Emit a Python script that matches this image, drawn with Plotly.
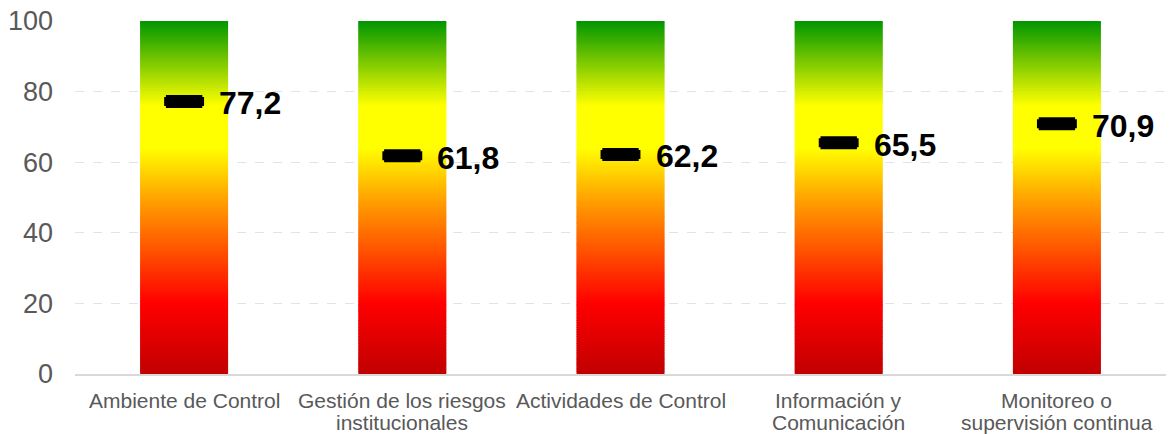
import plotly.graph_objects as go
from plotly.colors import sample_colorscale

# ---- data ----
categories = [
    "Ambiente de Control",
    "Gestión de los riesgos institucionales",
    "Actividades de Control",
    "Información y Comunicación",
    "Monitoreo o supervisión continua",
]
category_lines = [
    ["Ambiente de Control"],
    ["Gestión de los riesgos", "institucionales"],
    ["Actividades de Control"],
    ["Información y", "Comunicación"],
    ["Monitoreo o", "supervisión continua"],
]
scores = [77.2, 61.8, 62.2, 65.5, 70.9]
scale_min = 0
scale_max = 100
y_ticks = [0, 20, 40, 60, 80, 100]

# gradient of the background scale (bottom -> top)
gradient_stops = [
    [0.00, "rgb(192,0,0)"],
    [0.20, "rgb(255,0,0)"],
    [0.50, "rgb(255,165,0)"],
    [0.64, "rgb(255,255,0)"],
    [0.76, "rgb(255,255,0)"],
    [1.00, "rgb(0,150,0)"],
]

N_SEG = 200
step = (scale_max - scale_min) / N_SEG
levels = [scale_min + i * step for i in range(N_SEG)]
seg_colors = sample_colorscale(gradient_stops, [(l + step / 2 - scale_min) / (scale_max - scale_min) for l in levels])

bx, bbase, by, bcol = [], [], [], []
for c in categories:
    for l, col in zip(levels, seg_colors):
        bx.append(c)
        bbase.append(l)
        by.append(min(step * 1.6, scale_max - l))
        bcol.append(col)

fig = go.Figure()
fig.add_trace(go.Bar(
    x=bx, y=by, base=bbase, width=0.403,
    marker=dict(color=bcol, line=dict(width=0)),
    hoverinfo="skip", showlegend=False,
))
fig.add_trace(go.Scatter(
    x=categories, y=scores, mode="markers",
    marker=dict(symbol="line-ew", size=26, color="black",
                line=dict(width=13, color="black")),
    hoverinfo="skip", showlegend=False,
))
# rounded ends of the dash
fig.add_trace(go.Scatter(
    x=categories, y=scores, mode="markers",
    marker=dict(symbol="line-ew", size=28.5, color="black",
                line=dict(width=9, color="black")),
    hoverinfo="skip", showlegend=False,
))

for c, v in zip(categories, scores):
    fig.add_annotation(
        x=c, y=v, text="<b>" + f"{v:.1f}".replace(".", ",") + "</b>",
        showarrow=False, xanchor="left", yanchor="middle",
        xshift=33, yshift=-2,
        font=dict(family="Liberation Sans, Arial", size=32, color="black"),
    )

# category labels (two-line labels with tight line spacing)
for c, lines in zip(categories, category_lines):
    for i, line in enumerate(lines):
        fig.add_annotation(
            x=c, y=scale_min, text=line, showarrow=False,
            xanchor="center", yanchor="middle", yshift=-26 - 22 * i,
            font=dict(family="Liberation Sans, Arial", size=21, color="#595959"),
        )

fig.update_layout(
    width=1169, height=434,
    margin=dict(l=75, r=3, t=21, b=60),
    paper_bgcolor="white", plot_bgcolor="white",
    font=dict(family="Liberation Sans, Arial", color="#595959"),
)
fig.update_xaxes(
    type="category", range=[-0.5, 4.5], automargin=False,
    showgrid=False, showline=True, linecolor="#D9D9D9", linewidth=2,
    ticks="", showticklabels=False,
    fixedrange=True,
)
fig.update_yaxes(
    range=[scale_min, scale_max], tickvals=y_ticks, automargin=False,
    showgrid=True, gridcolor="#E3E3E3", griddash="dash", gridwidth=1,
    zeroline=False, showline=False, ticks="",
    tickfont=dict(size=27, color="#595959"), ticklabelstandoff=21,
    fixedrange=True,
)

fig.write_html(
    "out.html",
    config={"displayModeBar": False},
    post_script="document.body.style.margin='0';document.body.style.overflow='hidden';",
)
